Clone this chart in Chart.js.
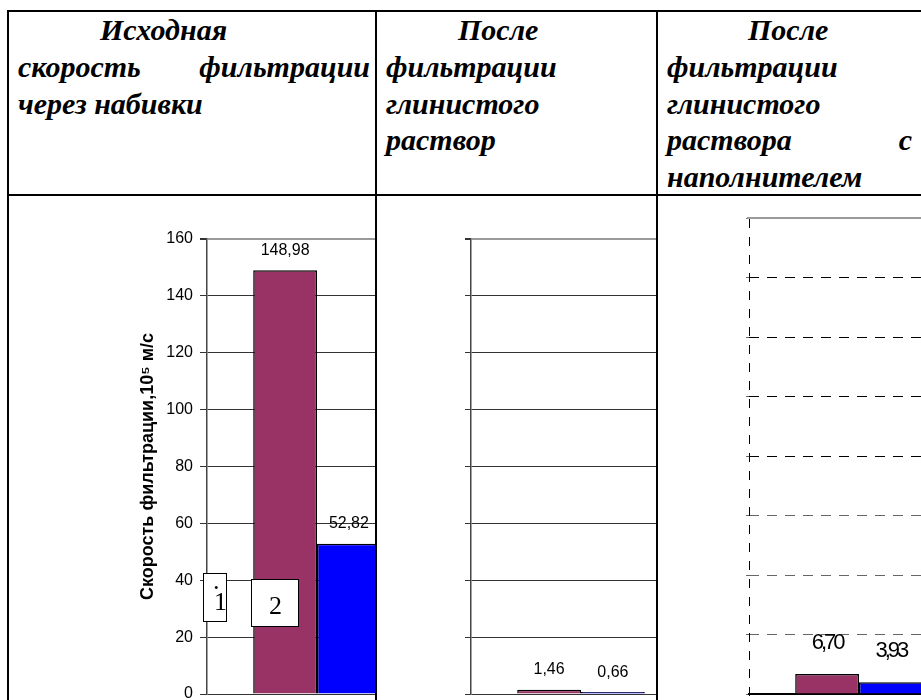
<!DOCTYPE html>
<html lang="ru">
<head>
<meta charset="utf-8">
<title>Скорость фильтрации</title>
<script src="https://cdn.jsdelivr.net/npm/chart.js@4.4.1/dist/chart.umd.min.js"></script>
<style>
  html, body { margin: 0; padding: 0; background: #fff; }
  #hoja { position: relative; width: 921px; height: 700px; overflow: hidden; }
  .linea { position: absolute; background: #000; }
  .celda { position: absolute; overflow: hidden; }
  .cab { position: absolute; top: 12px; color: #000;
         font: bold italic 30px/36.75px "Liberation Serif", "Times New Roman", serif; }
  .cab div { white-space: nowrap; }
  .just { display: flex; justify-content: space-between; }
  canvas { position: absolute; }
  .caja { position: absolute; background: #fff; border: 1.5px solid #000; box-sizing: border-box;
          font: 26px "Liberation Serif", "Times New Roman", serif; color: #000; }
  .caja span { position: absolute; line-height: 1; }
</style>
</head>
<body>
<div id="hoja">

  <!-- encabezados de la tabla -->
  <div class="cab" style="left:18px; width:352px;">
    <div style="padding-left:82px;">Исходная</div>
    <div class="just"><span>скорость</span><span>фильтрации</span></div>
    <div>через набивки</div>
  </div>
  <div class="cab" style="left:386px; width:265px;">
    <div style="padding-left:72px;">После</div>
    <div>фильтрации</div>
    <div>глинистого</div>
    <div>раствор</div>
  </div>
  <div class="cab" style="left:667px; width:245px;">
    <div style="padding-left:81px;">После</div>
    <div>фильтрации</div>
    <div>глинистого</div>
    <div class="just"><span>раствора</span><span>с</span></div>
    <div>наполнителем</div>
  </div>

  <!-- celdas con los graficos -->
  <div class="celda" style="left:9px; top:196px; width:366px; height:504px;">
    <canvas id="grafico1" width="340" height="520" style="left:91px; top:4px;"></canvas>
    <div class="caja" style="left:194px; top:377px; width:24px; height:49px;">
      <span style="left:9px; top:-6px;">.</span>
      <span style="left:10px; top:15px;">1</span>
    </div>
    <div class="caja" style="left:242px; top:383px; width:48px; height:48px;">
      <span style="left:17px; top:13px;">2</span>
    </div>
  </div>
  <div class="celda" style="left:377px; top:196px; width:279px; height:504px;">
    <canvas id="grafico2" width="310" height="520" style="left:23px; top:4px;"></canvas>
  </div>
  <div class="celda" style="left:658px; top:196px; width:263px; height:504px;">
    <canvas id="grafico3" width="300" height="530" style="left:22px; top:-6px;"></canvas>
  </div>

  <!-- bordes de la tabla -->
  <div class="linea" style="left:7px; top:10px; width:920px; height:2px;"></div>
  <div class="linea" style="left:7px; top:10px; width:2px; height:700px;"></div>
  <div class="linea" style="left:7px; top:194px; width:920px; height:2px;"></div>
  <div class="linea" style="left:375px; top:10px; width:2px; height:700px;"></div>
  <div class="linea" style="left:656px; top:10px; width:2px; height:700px;"></div>
</div>

<script>
// valores de cada etapa: serie 1 (granate) y serie 2 (azul)
const etapas = ['Исходная', 'После глинистого раствора', 'После глинистого раствора с наполнителем'];
const serie1 = [148.98, 1.46, 6.70];
const serie2 = [52.82, 0.66, 3.93];
const nombresSerie = ['1', '2'];
const coloresSerie = ['#993366', '#0000ff'];
const yMax = 160;
const yPaso = 20;
const tituloY = 'Скорость фильтрации,10⁵ м/с';

// escribe el valor encima de cada barra, con coma decimal
const etiquetasValor = {
    id: 'etiquetasValor',
    afterDatasetsDraw(chart, args, opts) {
        const ctx = chart.ctx;
        ctx.save();
        ctx.font = opts.font;
        ctx.fillStyle = '#000';
        ctx.textAlign = 'center';
        ctx.textBaseline = 'middle';
        if (opts.espacio) ctx.letterSpacing = opts.espacio + 'px';
        chart.data.datasets.forEach((ds, i) => {
            chart.getDatasetMeta(i).data.forEach((barra, j) => {
                const texto = ds.data[j].toFixed(2).replace('.', ',');
                ctx.fillText(texto, barra.x, barra.y - opts.offset);
            });
        });
        ctx.restore();
    }
};

// marco del tercer grafico: linea superior gris y eje punteado
const marcoPunteado = {
    id: 'marcoPunteado',
    beforeDatasetsDraw(chart) {
        const { ctx, chartArea: { left, top, right, bottom } } = chart;
        ctx.save();
        ctx.strokeStyle = '#9a9a9a';
        ctx.lineWidth = 2;
        ctx.beginPath();
        ctx.moveTo(left - 2, top);
        ctx.lineTo(right, top);
        ctx.stroke();
        ctx.strokeStyle = '#000';
        ctx.lineWidth = 1;
        ctx.setLineDash([9, 9]);
        ctx.beginPath();
        ctx.moveTo(left + 0.5, top + 1);
        ctx.lineTo(left + 0.5, bottom + 6);
        ctx.stroke();
        ctx.restore();
    }
};

Chart.register(etiquetasValor);
Chart.defaults.font.family = '"Liberation Sans", Arial, sans-serif';

function datosEtapa(i) {
    return {
        labels: [etapas[i]],
        datasets: [serie1, serie2].map((serie, k) => ({
            label: nombresSerie[k],
            data: [serie[i]],
            backgroundColor: coloresSerie[k],
            borderColor: '#000',
            borderWidth: 1.5
        }))
    };
}

function opcionesBase(padding, etiquetas) {
    return {
        responsive: false,
        animation: false,
        layout: { padding: padding },
        datasets: { bar: { categoryPercentage: 0.58, barPercentage: 1 } },
        plugins: {
            legend: { display: false },
            tooltip: { enabled: false },
            etiquetasValor: etiquetas
        }
    };
}

function GraficoInicial() {
    const op = opcionesBase({ top: 39, right: 13, bottom: 26, left: 0 },
        { font: '16px "Liberation Sans", Arial', offset: 20 });
    op.scales = {
        x: { display: false },
        y: {
            min: 0, max: yMax,
            ticks: { stepSize: yPaso, color: '#000', font: { size: 16 }, padding: 7 },
            grid: {
                color: c => c.tick.value === yMax ? '#9a9a9a' : '#333',
                lineWidth: c => c.tick.value === yMax ? 2 : 1,
                tickLength: 7,
                tickColor: '#333'
            },
            border: { color: '#444', width: 1.5 },
            title: {
                display: true, text: tituloY, color: '#000',
                font: { size: 18, weight: 'bold' },
                padding: { top: 37, bottom: 0 }
            },
            afterFit: s => { s.width = 107; }
        }
    };
    new Chart(document.getElementById('grafico1'), { type: 'bar', data: datosEtapa(0), options: op });
}

function GraficoArcilla() {
    const op = opcionesBase({ top: 39, right: 19, bottom: 26, left: 0 },
        { font: '16px "Liberation Sans", Arial', offset: 20 });
    op.scales = {
        x: { display: false },
        y: {
            min: 0, max: yMax,
            ticks: { stepSize: yPaso, display: false },
            grid: {
                color: c => c.tick.value === yMax ? '#9a9a9a' : '#333',
                lineWidth: c => c.tick.value === yMax ? 2 : 1,
                tickLength: 6,
                tickColor: '#333'
            },
            border: { color: '#444', width: 1.5 },
            afterFit: s => { s.width = 71; }
        }
    };
    new Chart(document.getElementById('grafico2'), { type: 'bar', data: datosEtapa(1), options: op });
}

function GraficoRelleno() {
    const op = opcionesBase({ top: 28, right: 11, bottom: 26, left: 0 },
        { font: '22px "Liberation Sans", Arial', offset: 31, espacio: -3 });
    op.scales = {
        x: {
            display: true,
            ticks: { display: false },
            grid: { display: false },
            border: { color: '#000', width: 2 },
            afterFit: s => { s.height = 0; }
        },
        y: {
            min: 0, max: yMax,
            ticks: { stepSize: yPaso, display: false },
            grid: {
                color: c => (c.tick.value === yMax || c.tick.value === 0) ? 'rgba(0,0,0,0)'
                    : (c.tick.value >= 80 ? '#000' : '#666'),
                lineWidth: 1,
                tickLength: 3,
                tickColor: '#666'
            },
            border: { display: false, dash: [10, 8] },
            afterFit: s => { s.width = 69; }
        }
    };
    new Chart(document.getElementById('grafico3'), {
        type: 'bar', data: datosEtapa(2), options: op, plugins: [marcoPunteado]
    });
}

GraficoInicial();
GraficoArcilla();
GraficoRelleno();
</script>
</body>
</html>
